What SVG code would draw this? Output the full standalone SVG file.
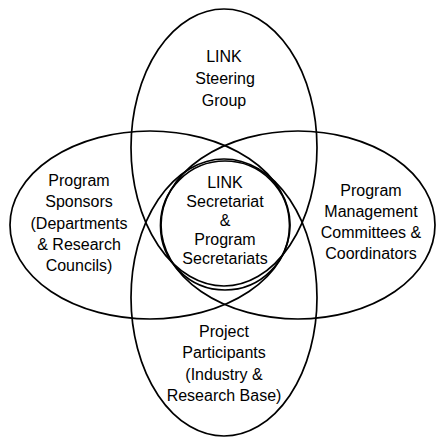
<svg xmlns="http://www.w3.org/2000/svg" width="436" height="438" viewBox="0 0 436 438">
<style>
.shape{fill:none;stroke:#000;stroke-width:1.7}
.lbl{font-family:"Liberation Sans",Arial,sans-serif;font-size:16px;fill:#000;text-anchor:middle}
</style>
<rect x="0" y="0" width="436" height="438" fill="#fff"/>
<g id="steering">
<ellipse class="shape" cx="224" cy="147.5" rx="93" ry="138.5"/>
<text class="lbl" x="224" y="62">LINK</text>
<text class="lbl" x="225" y="84">Steering</text>
<text class="lbl" x="224" y="106">Group</text>
</g>
<g id="participants">
<ellipse class="shape" cx="224" cy="297.5" rx="93" ry="138.5"/>
<text class="lbl" x="224" y="337">Project</text>
<text class="lbl" x="224" y="358">Participants</text>
<text class="lbl" x="224" y="380">(Industry &amp;</text>
<text class="lbl" x="224" y="401">Research Base)</text>
</g>
<g id="sponsors">
<ellipse class="shape" cx="150" cy="225" rx="140" ry="94"/>
<text class="lbl" x="79" y="186">Program</text>
<text class="lbl" x="79" y="207">Sponsors</text>
<text class="lbl" x="79" y="229">(Departments</text>
<text class="lbl" x="79" y="250">&amp; Research</text>
<text class="lbl" x="79" y="271">Councils)</text>
</g>
<g id="management">
<ellipse class="shape" cx="298" cy="225" rx="137" ry="94"/>
<text class="lbl" x="371" y="196">Program</text>
<text class="lbl" x="371" y="217">Management</text>
<text class="lbl" x="371" y="238">Committees &amp;</text>
<text class="lbl" x="371" y="259">Coordinators</text>
</g>
<g id="secretariat">
<circle class="shape" cx="225" cy="225.5" r="64.5"/>
<text class="lbl" x="225" y="188">LINK</text>
<text class="lbl" x="225" y="207">Secretariat</text>
<text class="lbl" x="225" y="226">&amp;</text>
<text class="lbl" x="225" y="245">Program</text>
<text class="lbl" x="225" y="264">Secretariats</text>
</g>
</svg>
